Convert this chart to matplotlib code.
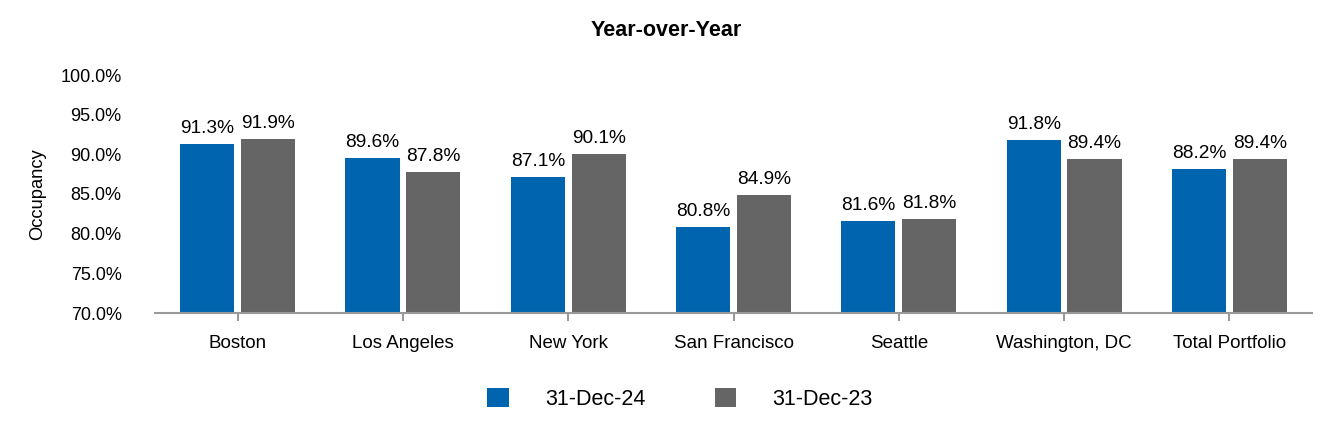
import numpy as np
import matplotlib
matplotlib.use("Agg")
import matplotlib.pyplot as plt
from matplotlib.ticker import FuncFormatter

plt.rcParams['font.family'] = ['Liberation Sans', 'DejaVu Sans']

# Données
villes = ["Boston", "Los Angeles", "New York", "San Francisco", "Seattle",
          "Washington, DC", "Total Portfolio"]
dec24 = [91.3, 89.6, 87.1, 80.8, 81.6, 91.8, 88.2]
dec23 = [91.9, 87.8, 90.1, 84.9, 81.8, 89.4, 89.4]
series = ["31-Dec-24", "31-Dec-23"]

bleu = "#0064AF"
gris = "#656565"

fig = plt.figure(figsize=(13.32, 4.4), dpi=100)
ax = fig.add_axes([155 / 1332, 1 - 313 / 440, 1157 / 1332, 238 / 440])

x = np.arange(len(villes))
width = 0.327
off = 0.184
b1 = ax.bar(x - off, dec24, width, color=bleu, label=series[0])
b2 = ax.bar(x + off, dec23, width, color=gris, label=series[1])
ax.bar_label(b1, labels=[f"{v:.1f}%" for v in dec24], padding=5, fontsize=13.8)
ax.bar_label(b2, labels=[f"{v:.1f}%" for v in dec23], padding=5, fontsize=13.8)

ax.set_ylim(70, 100)
ax.set_xlim(-0.5, len(villes) - 0.5)
ax.set_yticks(np.arange(70, 100.1, 5))
ax.yaxis.set_major_formatter(FuncFormatter(lambda v, p: f"{v:.1f}%"))
ax.tick_params(axis="y", length=0, pad=24, labelsize=13)
ax.set_xticks(x)
ax.set_xticklabels(villes)
ax.tick_params(axis="x", length=6, color="#999999", width=1.5, pad=10, labelsize=13.5)

for s in ["top", "right", "left"]:
    ax.spines[s].set_visible(False)
ax.spines["bottom"].set_color("#999999")
ax.spines["bottom"].set_linewidth(1.5)

ax.set_ylabel("Occupancy", fontsize=13.2, labelpad=10)
fig.text(0.5, 1 - 30 / 440, "Year-over-Year", ha="center", va="center",
         fontsize=15.5, fontweight="bold")

fig.legend(loc="center", bbox_to_anchor=(680 / 1332, 1 - 399 / 440), ncol=2,
           frameon=False, fontsize=15.5, handlelength=1.0, handleheight=1.0,
           handletextpad=1.7, columnspacing=3.2)

fig.savefig("out.png", dpi=100)
